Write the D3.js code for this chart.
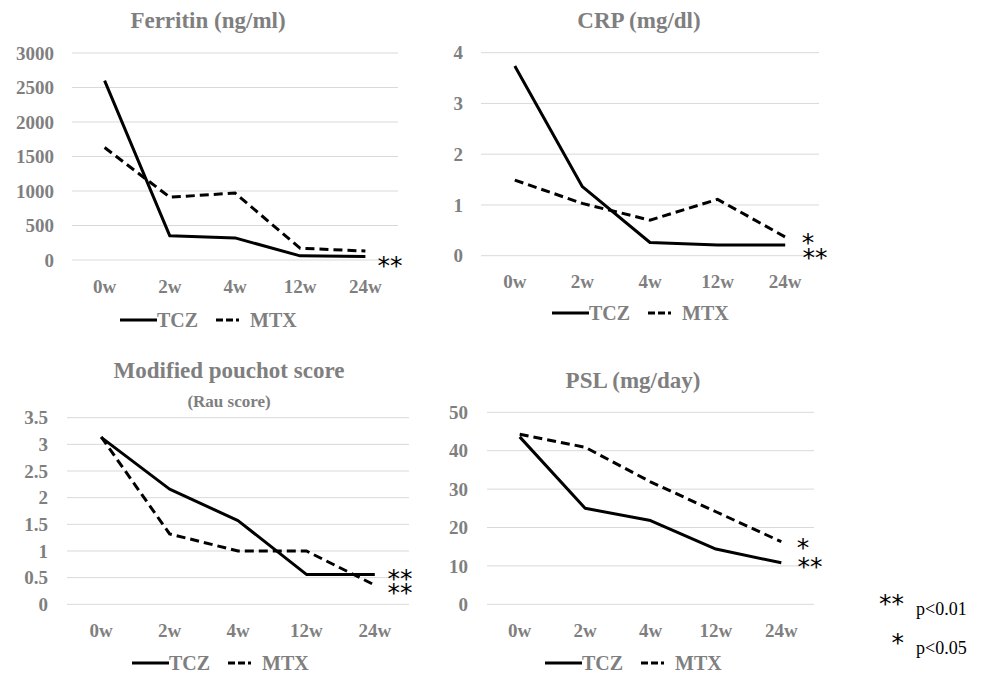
<!DOCTYPE html>
<html>
<head>
<meta charset="utf-8">
<title>TCZ vs MTX</title>
<script src="https://d3js.org/d3.v7.min.js"></script>
<style>
  body { margin: 0; background: #fff; }
  svg { display: block; }
  .tick-label, .ptitle, .leg-text { font-family: "Liberation Serif", "Times New Roman", serif; font-weight: bold; fill: #7f7f7f; }
  .star { font-family: "DejaVu Sans", sans-serif; fill: #000; }
  .note { font-family: "Liberation Serif", serif; fill: #000; }
</style>
</head>
<body>
<svg width="988" height="676"></svg>
<script>
// shared categories and series names
var weeks = ["0w", "2w", "4w", "12w", "24w"];
var seriesNames = ["TCZ", "MTX"];

// values
var ferritinTCZ = [2600, 350, 320, 60, 50];
var ferritinMTX = [1630, 910, 970, 170, 130];
var ferritinTicks = [0, 500, 1000, 1500, 2000, 2500, 3000];

var crpTCZ = [3.74, 1.36, 0.26, 0.21, 0.21];
var crpMTX = [1.49, 1.03, 0.70, 1.11, 0.37];
var crpTicks = [0, 1, 2, 3, 4];

var pouchotTCZ = [3.13, 2.16, 1.57, 0.56, 0.56];
var pouchotMTX = [3.14, 1.32, 1.0, 1.0, 0.36];
var pouchotTicks = [0, 0.5, 1, 1.5, 2, 2.5, 3, 3.5];

var pslTCZ = [43.6, 25.0, 21.8, 14.4, 10.8];
var pslMTX = [44.3, 40.9, 31.9, 24.1, 16.3];
var pslTicks = [0, 10, 20, 30, 40, 50];

var pNotes = ["p<0.01", "p<0.05"];

var svg = d3.select("svg");

function drawPanel(p) {
  var g = svg.append("g");

  var x = d3.scaleBand().domain(weeks).range([p.left, p.right]);
  var y = d3.scaleLinear().domain([0, d3.max(p.ticks)]).range([p.bottom, p.top]);

  // gridlines
  g.selectAll(".grid").data(p.ticks).enter().append("line")
    .attr("x1", p.left).attr("x2", p.right)
    .attr("y1", function(d) { return y(d); }).attr("y2", function(d) { return y(d); })
    .attr("stroke", "#d9d9d9").attr("stroke-width", 1);

  // y labels
  g.selectAll(".ylab").data(p.ticks).enter().append("text")
    .attr("class", "tick-label")
    .attr("x", p.labelX).attr("y", function(d) { return y(d); })
    .attr("dy", "0.35em").attr("text-anchor", "end")
    .style("font-size", "19px")
    .text(function(d) { return d; });

  // x labels
  g.selectAll(".xlab").data(weeks).enter().append("text")
    .attr("class", "tick-label")
    .attr("x", function(d) { return x(d) + x.bandwidth() / 2; })
    .attr("y", p.bottom + 26)
    .attr("dy", "0.35em").attr("text-anchor", "middle")
    .style("font-size", "19px")
    .text(function(d) { return d; });

  // title
  g.append("text").attr("class", "ptitle")
    .attr("x", p.titleX).attr("y", p.titleY)
    .attr("dy", "0.35em").attr("text-anchor", "middle")
    .style("font-size", "23px")
    .text(p.title);
  if (p.subtitle) {
    g.append("text").attr("class", "ptitle")
      .attr("x", p.titleX).attr("y", p.titleY + 31)
      .attr("dy", "0.35em").attr("text-anchor", "middle")
      .style("font-size", "17px")
      .text(p.subtitle);
  }

  var line = d3.line()
    .x(function(d, i) { return x(weeks[i]) + x.bandwidth() / 2; })
    .y(function(d) { return y(d); });

  g.append("path").datum(p.mtx)
    .attr("d", line).attr("fill", "none")
    .attr("stroke", "#000").attr("stroke-width", 3)
    .attr("stroke-dasharray", "9,5");
  g.append("path").datum(p.tcz)
    .attr("d", line).attr("fill", "none")
    .attr("stroke", "#000").attr("stroke-width", 3)
    .attr("stroke-linejoin", "round");

  // significance marks, one text block; each row given by glyph centre
  var st = g.append("text").attr("class", "star")
    .attr("text-anchor", "middle")
    .style("font-size", "25px");
  p.stars.forEach(function(s) {
    st.append("tspan").attr("x", s[0]).attr("y", s[1] + 13).text(s[2]);
  });

  // legend
  var lg = g.append("g").attr("transform", "translate(" + p.legX + "," + p.legY + ")");
  lg.append("line").attr("x1", 0).attr("x2", 37).attr("y1", 0).attr("y2", 0)
    .attr("stroke", "#000").attr("stroke-width", 3);
  lg.append("text").attr("class", "leg-text").attr("x", 37).attr("y", 0)
    .attr("dy", "0.35em").style("font-size", "20px").text(seriesNames[0]);
  lg.append("line").attr("x1", 96).attr("x2", 130).attr("y1", 0).attr("y2", 0)
    .attr("stroke", "#000").attr("stroke-width", 3).attr("stroke-dasharray", "7,3,7,3,3,30");
  lg.append("text").attr("class", "leg-text").attr("x", 130).attr("y", 0)
    .attr("dy", "0.35em").style("font-size", "20px").text(seriesNames[1]);
}

drawPanel({
  title: "Ferritin (ng/ml)", titleX: 208, titleY: 20,
  left: 72, right: 398, top: 53, bottom: 260, labelX: 54,
  ticks: ferritinTicks, tcz: ferritinTCZ, mtx: ferritinMTX,
  stars: [[390, 261, "**"]],
  legX: 120, legY: 320
});

drawPanel({
  title: "CRP (mg/dl)", titleX: 639, titleY: 20,
  left: 481, right: 819, top: 52.7, bottom: 255.7, labelX: 463,
  ticks: crpTicks, tcz: crpTCZ, mtx: crpMTX,
  stars: [[808, 237.5, "*"], [815, 253, "**"]],
  legX: 552, legY: 313
});

drawPanel({
  title: "Modified pouchot score", subtitle: "(Rau score)", titleX: 229, titleY: 370,
  left: 67, right: 409, top: 417.7, bottom: 604.3, labelX: 48,
  ticks: pouchotTicks, tcz: pouchotTCZ, mtx: pouchotMTX,
  stars: [[400, 574, "**"], [400, 588, "**"]],
  legX: 132, legY: 663
});

drawPanel({
  title: "PSL (mg/day)", titleX: 633, titleY: 380,
  left: 487, right: 814, top: 412.3, bottom: 604.3, labelX: 468,
  ticks: pslTicks, tcz: pslTCZ, mtx: pslMTX,
  stars: [[803, 543, "*"], [810, 562, "**"]],
  legX: 545, legY: 663
});

// p-value footnote
var noteStars = ["**", "*"];
var noteY = [599, 638];
pNotes.forEach(function(n, i) {
  svg.append("text").attr("class", "star").attr("x", 904).attr("y", noteY[i] + 13)
    .attr("text-anchor", "end").style("font-size", "25px").text(noteStars[i]);
  svg.append("text").attr("class", "note").attr("x", 916).attr("y", noteY[i] + 16)
    .style("font-size", "18px").text(n);
});
</script>
</body>
</html>
